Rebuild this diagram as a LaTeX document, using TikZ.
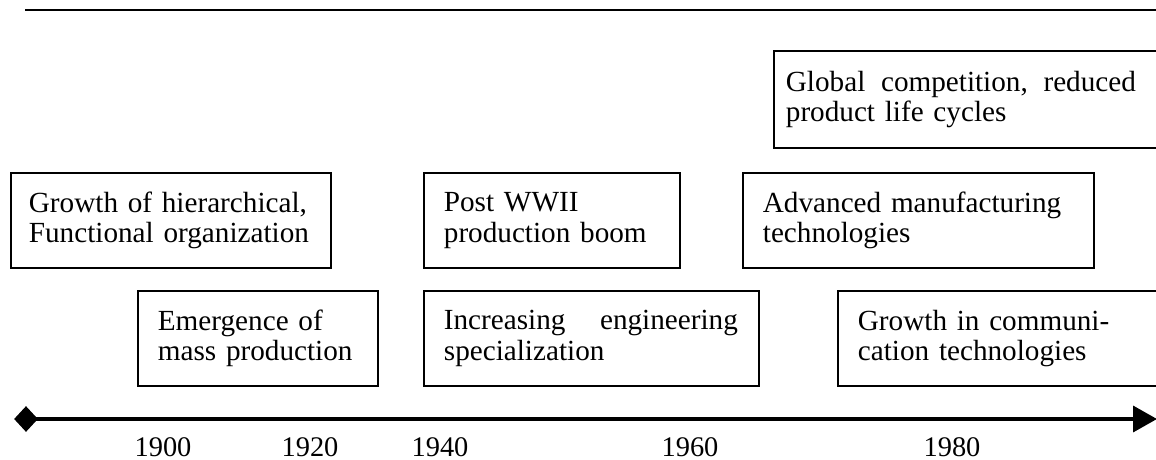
\documentclass[tikz,border=0pt]{standalone}
\usepackage{fontspec}
\setmainfont{Liberation Serif}
\usetikzlibrary{arrows.meta,shapes.geometric}
\begin{document}
\begin{tikzpicture}[x=0.5pt,y=-0.5pt,
  evt/.style={draw, line width=0.9pt, rectangle, inner xsep=10pt, inner ysep=0pt,
    minimum height=47.5pt, align=left, anchor=north west,
    font=\fontsize{14.6}{15.2}\selectfont},
  yr/.style={anchor=base, inner sep=0pt, font=\fontsize{14.2}{16}\selectfont},
  axisline/.style={line width=1.8pt, -{Triangle[length=12pt,width=13pt]}},
  toprule/.style={line width=1.4pt}]
\useasboundingbox (0,0) rectangle (1156,460);

% rule across the top
\coordinate (ruleL) at (25,10);
\coordinate (ruleR) at (1160,10);
\draw[toprule] (ruleL) -- (ruleR);

% event boxes, upper row
\node[evt, inner xsep=9pt, text width=142pt] (hier) at (10,172)
  {Growth of hierarchical,\\Functional organization};
\node[evt, text width=108pt] (boom) at (423,172)
  {Post WWII\\production boom};
\node[evt, text width=155.5pt] (amt) at (742,172)
  {Advanced manufacturing\\technologies};
\node[evt, inner xsep=6pt, text width=187pt, minimum height=48.5pt] (global) at (773,50)
  {\hbox to 175pt{Global\hfill competition,\hfill reduced}\\product life cycles};

% event boxes, lower row
\node[evt, text width=100pt] (mass) at (137,290)
  {Emergence of\\mass production};
\node[evt, text width=147.5pt] (spec) at (423,290)
  {\hbox to 147pt{Increasing\hfill engineering}\\specialization};
\node[evt, text width=144pt] (comm) at (837,290)
  {Growth in communi-\\cation technologies};

% time axis
\node[diamond, fill=black, inner sep=0pt, minimum width=12pt, minimum height=13pt] (origin) at (26,419) {};
\coordinate (axisend) at (1157,419);
\draw[axisline] (origin.center) -- (axisend);

% year labels
\node[yr] (y1900) at (163,456) {1900};
\node[yr] (y1920) at (310,456) {1920};
\node[yr] (y1940) at (440,456) {1940};
\node[yr] (y1960) at (690,456) {1960};
\node[yr] (y1980) at (952,456) {1980};
\end{tikzpicture}
\end{document}
